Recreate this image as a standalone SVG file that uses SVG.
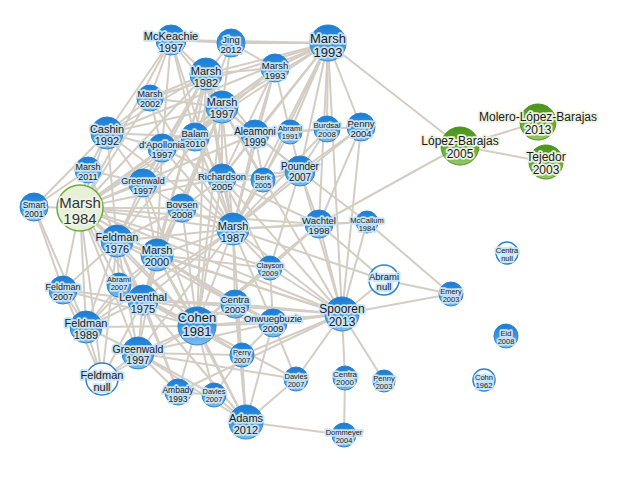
<svg xmlns="http://www.w3.org/2000/svg" width="630" height="484" viewBox="0 0 630 484">
<defs>
<linearGradient id="gBlue" x1="0" y1="0" x2="0" y2="1">
<stop offset="0" stop-color="#1a7bd2"/>
<stop offset="0.5" stop-color="#3b96e0"/>
<stop offset="1" stop-color="#7dbcec"/>
</linearGradient>
<linearGradient id="gGreen" x1="0" y1="0" x2="0" y2="1">
<stop offset="0" stop-color="#4a951c"/>
<stop offset="0.5" stop-color="#62a832"/>
<stop offset="1" stop-color="#95c966"/>
</linearGradient>
</defs>
<style>
.e line{stroke:#d4cdc4;stroke-width:2}
.n{fill:url(#gBlue);stroke:#2b84d0;stroke-width:1}
.w{fill:#fff;stroke:#2b84d0;stroke-width:1.5}
.g{fill:url(#gGreen);stroke:#4b9420;stroke-width:1}
.lg{fill:#e6f1d8;stroke:#6fab40;stroke-width:1.5}
text{font-family:"Liberation Sans",Arial,sans-serif;text-anchor:middle;fill:#1a1a1a;paint-order:stroke;stroke:#c6e3f7;stroke-width:3.5;stroke-linejoin:round}
.tg{stroke:#edf2df}
.t84{fill:#333;stroke:#eef5e6}
</style>
<rect width="630" height="484" fill="#fff"/>
<g id="connectors" class="e">
<line x1="171" y1="40" x2="231" y2="43"/>
<line x1="171" y1="40" x2="328" y2="43"/>
<line x1="171" y1="40" x2="206" y2="74"/>
<line x1="171" y1="40" x2="150" y2="98"/>
<line x1="171" y1="40" x2="107" y2="133"/>
<line x1="171" y1="40" x2="222" y2="107"/>
<line x1="171" y1="40" x2="162" y2="148"/>
<line x1="171" y1="40" x2="195" y2="137"/>
<line x1="171" y1="40" x2="80" y2="208"/>
<line x1="171" y1="40" x2="233" y2="229"/>
<line x1="231" y1="43" x2="328" y2="43"/>
<line x1="231" y1="43" x2="206" y2="74"/>
<line x1="231" y1="43" x2="222" y2="107"/>
<line x1="231" y1="43" x2="275" y2="68"/>
<line x1="231" y1="43" x2="195" y2="137"/>
<line x1="328" y1="43" x2="206" y2="74"/>
<line x1="328" y1="43" x2="275" y2="68"/>
<line x1="328" y1="43" x2="222" y2="107"/>
<line x1="328" y1="43" x2="255" y2="134"/>
<line x1="328" y1="43" x2="290" y2="132"/>
<line x1="328" y1="43" x2="327" y2="129"/>
<line x1="328" y1="43" x2="361" y2="127"/>
<line x1="328" y1="43" x2="300" y2="171"/>
<line x1="328" y1="43" x2="222" y2="178"/>
<line x1="328" y1="43" x2="263" y2="180"/>
<line x1="328" y1="43" x2="319" y2="224"/>
<line x1="328" y1="43" x2="342" y2="314"/>
<line x1="328" y1="43" x2="460" y2="146"/>
<line x1="328" y1="43" x2="107" y2="133"/>
<line x1="328" y1="43" x2="150" y2="98"/>
<line x1="328" y1="43" x2="233" y2="229"/>
<line x1="328" y1="43" x2="80" y2="208"/>
<line x1="206" y1="74" x2="275" y2="68"/>
<line x1="206" y1="74" x2="150" y2="98"/>
<line x1="206" y1="74" x2="107" y2="133"/>
<line x1="206" y1="74" x2="195" y2="137"/>
<line x1="206" y1="74" x2="162" y2="148"/>
<line x1="206" y1="74" x2="255" y2="134"/>
<line x1="206" y1="74" x2="222" y2="178"/>
<line x1="206" y1="74" x2="143" y2="183"/>
<line x1="206" y1="74" x2="157" y2="255"/>
<line x1="206" y1="74" x2="117" y2="241"/>
<line x1="206" y1="74" x2="143" y2="300"/>
<line x1="206" y1="74" x2="222" y2="107"/>
<line x1="206" y1="74" x2="80" y2="208"/>
<line x1="206" y1="74" x2="233" y2="229"/>
<line x1="206" y1="74" x2="197" y2="326"/>
<line x1="275" y1="68" x2="290" y2="132"/>
<line x1="275" y1="68" x2="255" y2="134"/>
<line x1="275" y1="68" x2="195" y2="137"/>
<line x1="275" y1="68" x2="222" y2="178"/>
<line x1="275" y1="68" x2="222" y2="107"/>
<line x1="275" y1="68" x2="233" y2="229"/>
<line x1="275" y1="68" x2="80" y2="208"/>
<line x1="150" y1="98" x2="107" y2="133"/>
<line x1="150" y1="98" x2="222" y2="107"/>
<line x1="150" y1="98" x2="162" y2="148"/>
<line x1="150" y1="98" x2="80" y2="208"/>
<line x1="150" y1="98" x2="233" y2="229"/>
<line x1="222" y1="107" x2="195" y2="137"/>
<line x1="222" y1="107" x2="162" y2="148"/>
<line x1="222" y1="107" x2="107" y2="133"/>
<line x1="222" y1="107" x2="255" y2="134"/>
<line x1="222" y1="107" x2="222" y2="178"/>
<line x1="222" y1="107" x2="263" y2="180"/>
<line x1="222" y1="107" x2="143" y2="183"/>
<line x1="222" y1="107" x2="182" y2="208"/>
<line x1="222" y1="107" x2="157" y2="255"/>
<line x1="222" y1="107" x2="117" y2="241"/>
<line x1="222" y1="107" x2="143" y2="300"/>
<line x1="222" y1="107" x2="342" y2="314"/>
<line x1="222" y1="107" x2="300" y2="171"/>
<line x1="222" y1="107" x2="80" y2="208"/>
<line x1="222" y1="107" x2="233" y2="229"/>
<line x1="222" y1="107" x2="197" y2="326"/>
<line x1="107" y1="133" x2="88" y2="170"/>
<line x1="107" y1="133" x2="162" y2="148"/>
<line x1="107" y1="133" x2="143" y2="183"/>
<line x1="107" y1="133" x2="34" y2="207"/>
<line x1="107" y1="133" x2="195" y2="137"/>
<line x1="107" y1="133" x2="80" y2="208"/>
<line x1="107" y1="133" x2="117" y2="241"/>
<line x1="107" y1="133" x2="233" y2="229"/>
<line x1="195" y1="137" x2="162" y2="148"/>
<line x1="195" y1="137" x2="255" y2="134"/>
<line x1="195" y1="137" x2="222" y2="178"/>
<line x1="195" y1="137" x2="80" y2="208"/>
<line x1="195" y1="137" x2="233" y2="229"/>
<line x1="162" y1="148" x2="222" y2="178"/>
<line x1="162" y1="148" x2="143" y2="183"/>
<line x1="162" y1="148" x2="80" y2="208"/>
<line x1="162" y1="148" x2="233" y2="229"/>
<line x1="162" y1="148" x2="157" y2="255"/>
<line x1="255" y1="134" x2="290" y2="132"/>
<line x1="255" y1="134" x2="222" y2="178"/>
<line x1="255" y1="134" x2="263" y2="180"/>
<line x1="255" y1="134" x2="300" y2="171"/>
<line x1="255" y1="134" x2="233" y2="229"/>
<line x1="255" y1="134" x2="80" y2="208"/>
<line x1="255" y1="134" x2="327" y2="129"/>
<line x1="290" y1="132" x2="327" y2="129"/>
<line x1="290" y1="132" x2="233" y2="229"/>
<line x1="290" y1="132" x2="300" y2="171"/>
<line x1="327" y1="129" x2="300" y2="171"/>
<line x1="327" y1="129" x2="233" y2="229"/>
<line x1="361" y1="127" x2="300" y2="171"/>
<line x1="361" y1="127" x2="327" y2="129"/>
<line x1="361" y1="127" x2="319" y2="224"/>
<line x1="361" y1="127" x2="342" y2="314"/>
<line x1="361" y1="127" x2="233" y2="229"/>
<line x1="88" y1="170" x2="34" y2="207"/>
<line x1="88" y1="170" x2="80" y2="208"/>
<line x1="88" y1="170" x2="117" y2="241"/>
<line x1="88" y1="170" x2="143" y2="183"/>
<line x1="143" y1="183" x2="80" y2="208"/>
<line x1="143" y1="183" x2="222" y2="178"/>
<line x1="143" y1="183" x2="117" y2="241"/>
<line x1="143" y1="183" x2="157" y2="255"/>
<line x1="143" y1="183" x2="197" y2="326"/>
<line x1="143" y1="183" x2="182" y2="208"/>
<line x1="222" y1="178" x2="263" y2="180"/>
<line x1="222" y1="178" x2="182" y2="208"/>
<line x1="222" y1="178" x2="300" y2="171"/>
<line x1="222" y1="178" x2="319" y2="224"/>
<line x1="222" y1="178" x2="270" y2="268"/>
<line x1="222" y1="178" x2="80" y2="208"/>
<line x1="222" y1="178" x2="233" y2="229"/>
<line x1="222" y1="178" x2="197" y2="326"/>
<line x1="222" y1="178" x2="342" y2="314"/>
<line x1="263" y1="180" x2="300" y2="171"/>
<line x1="263" y1="180" x2="233" y2="229"/>
<line x1="300" y1="171" x2="319" y2="224"/>
<line x1="300" y1="171" x2="270" y2="268"/>
<line x1="300" y1="171" x2="233" y2="229"/>
<line x1="300" y1="171" x2="342" y2="314"/>
<line x1="300" y1="171" x2="367" y2="222"/>
<line x1="34" y1="207" x2="80" y2="208"/>
<line x1="34" y1="207" x2="63" y2="290"/>
<line x1="34" y1="207" x2="86" y2="327"/>
<line x1="80" y1="208" x2="182" y2="208"/>
<line x1="80" y1="208" x2="233" y2="229"/>
<line x1="80" y1="208" x2="117" y2="241"/>
<line x1="80" y1="208" x2="157" y2="255"/>
<line x1="80" y1="208" x2="63" y2="290"/>
<line x1="80" y1="208" x2="119" y2="285"/>
<line x1="80" y1="208" x2="143" y2="300"/>
<line x1="80" y1="208" x2="86" y2="327"/>
<line x1="80" y1="208" x2="138" y2="353"/>
<line x1="80" y1="208" x2="102" y2="379"/>
<line x1="80" y1="208" x2="197" y2="326"/>
<line x1="80" y1="208" x2="235" y2="304"/>
<line x1="80" y1="208" x2="342" y2="314"/>
<line x1="80" y1="208" x2="319" y2="224"/>
<line x1="80" y1="208" x2="270" y2="268"/>
<line x1="182" y1="208" x2="233" y2="229"/>
<line x1="182" y1="208" x2="157" y2="255"/>
<line x1="182" y1="208" x2="117" y2="241"/>
<line x1="182" y1="208" x2="197" y2="326"/>
<line x1="233" y1="229" x2="319" y2="224"/>
<line x1="233" y1="229" x2="367" y2="222"/>
<line x1="233" y1="229" x2="157" y2="255"/>
<line x1="233" y1="229" x2="117" y2="241"/>
<line x1="233" y1="229" x2="143" y2="300"/>
<line x1="233" y1="229" x2="197" y2="326"/>
<line x1="233" y1="229" x2="235" y2="304"/>
<line x1="233" y1="229" x2="273" y2="323"/>
<line x1="233" y1="229" x2="342" y2="314"/>
<line x1="233" y1="229" x2="270" y2="268"/>
<line x1="233" y1="229" x2="384" y2="280"/>
<line x1="233" y1="229" x2="246" y2="422"/>
<line x1="233" y1="229" x2="138" y2="353"/>
<line x1="233" y1="229" x2="86" y2="327"/>
<line x1="319" y1="224" x2="367" y2="222"/>
<line x1="319" y1="224" x2="342" y2="314"/>
<line x1="319" y1="224" x2="384" y2="280"/>
<line x1="319" y1="224" x2="460" y2="146"/>
<line x1="319" y1="224" x2="270" y2="268"/>
<line x1="319" y1="224" x2="197" y2="326"/>
<line x1="367" y1="222" x2="451" y2="294"/>
<line x1="367" y1="222" x2="342" y2="314"/>
<line x1="117" y1="241" x2="157" y2="255"/>
<line x1="117" y1="241" x2="143" y2="300"/>
<line x1="117" y1="241" x2="86" y2="327"/>
<line x1="117" y1="241" x2="63" y2="290"/>
<line x1="117" y1="241" x2="119" y2="285"/>
<line x1="117" y1="241" x2="138" y2="353"/>
<line x1="117" y1="241" x2="102" y2="379"/>
<line x1="117" y1="241" x2="197" y2="326"/>
<line x1="117" y1="241" x2="235" y2="304"/>
<line x1="117" y1="241" x2="342" y2="314"/>
<line x1="117" y1="241" x2="178" y2="392"/>
<line x1="157" y1="255" x2="143" y2="300"/>
<line x1="157" y1="255" x2="86" y2="327"/>
<line x1="157" y1="255" x2="138" y2="353"/>
<line x1="157" y1="255" x2="235" y2="304"/>
<line x1="157" y1="255" x2="273" y2="323"/>
<line x1="157" y1="255" x2="342" y2="314"/>
<line x1="157" y1="255" x2="270" y2="268"/>
<line x1="157" y1="255" x2="197" y2="326"/>
<line x1="157" y1="255" x2="119" y2="285"/>
<line x1="157" y1="255" x2="246" y2="422"/>
<line x1="270" y1="268" x2="342" y2="314"/>
<line x1="270" y1="268" x2="273" y2="323"/>
<line x1="270" y1="268" x2="197" y2="326"/>
<line x1="384" y1="280" x2="451" y2="294"/>
<line x1="384" y1="280" x2="342" y2="314"/>
<line x1="63" y1="290" x2="86" y2="327"/>
<line x1="63" y1="290" x2="143" y2="300"/>
<line x1="63" y1="290" x2="197" y2="326"/>
<line x1="63" y1="290" x2="102" y2="379"/>
<line x1="119" y1="285" x2="143" y2="300"/>
<line x1="119" y1="285" x2="86" y2="327"/>
<line x1="119" y1="285" x2="197" y2="326"/>
<line x1="143" y1="300" x2="86" y2="327"/>
<line x1="143" y1="300" x2="138" y2="353"/>
<line x1="143" y1="300" x2="102" y2="379"/>
<line x1="143" y1="300" x2="178" y2="392"/>
<line x1="143" y1="300" x2="235" y2="304"/>
<line x1="143" y1="300" x2="342" y2="314"/>
<line x1="143" y1="300" x2="246" y2="422"/>
<line x1="143" y1="300" x2="197" y2="326"/>
<line x1="143" y1="300" x2="273" y2="323"/>
<line x1="143" y1="300" x2="242" y2="355"/>
<line x1="235" y1="304" x2="197" y2="326"/>
<line x1="235" y1="304" x2="273" y2="323"/>
<line x1="235" y1="304" x2="342" y2="314"/>
<line x1="235" y1="304" x2="242" y2="355"/>
<line x1="235" y1="304" x2="246" y2="422"/>
<line x1="197" y1="326" x2="86" y2="327"/>
<line x1="197" y1="326" x2="138" y2="353"/>
<line x1="197" y1="326" x2="102" y2="379"/>
<line x1="197" y1="326" x2="178" y2="392"/>
<line x1="197" y1="326" x2="214" y2="395"/>
<line x1="197" y1="326" x2="246" y2="422"/>
<line x1="197" y1="326" x2="242" y2="355"/>
<line x1="197" y1="326" x2="273" y2="323"/>
<line x1="197" y1="326" x2="342" y2="314"/>
<line x1="197" y1="326" x2="296" y2="379"/>
<line x1="273" y1="323" x2="342" y2="314"/>
<line x1="273" y1="323" x2="242" y2="355"/>
<line x1="273" y1="323" x2="296" y2="379"/>
<line x1="273" y1="323" x2="246" y2="422"/>
<line x1="342" y1="314" x2="242" y2="355"/>
<line x1="342" y1="314" x2="296" y2="379"/>
<line x1="342" y1="314" x2="345" y2="378"/>
<line x1="342" y1="314" x2="384" y2="381"/>
<line x1="342" y1="314" x2="451" y2="294"/>
<line x1="342" y1="314" x2="178" y2="392"/>
<line x1="86" y1="327" x2="102" y2="379"/>
<line x1="86" y1="327" x2="138" y2="353"/>
<line x1="138" y1="353" x2="102" y2="379"/>
<line x1="138" y1="353" x2="178" y2="392"/>
<line x1="138" y1="353" x2="246" y2="422"/>
<line x1="138" y1="353" x2="296" y2="379"/>
<line x1="138" y1="353" x2="242" y2="355"/>
<line x1="138" y1="353" x2="273" y2="323"/>
<line x1="138" y1="353" x2="214" y2="395"/>
<line x1="242" y1="355" x2="246" y2="422"/>
<line x1="242" y1="355" x2="214" y2="395"/>
<line x1="296" y1="379" x2="246" y2="422"/>
<line x1="345" y1="378" x2="344" y2="435"/>
<line x1="178" y1="392" x2="214" y2="395"/>
<line x1="214" y1="395" x2="246" y2="422"/>
<line x1="246" y1="422" x2="344" y2="435"/>
<line x1="460" y1="146" x2="538" y2="122"/>
<line x1="460" y1="146" x2="546" y2="162"/>
</g>
<g id="n-mckeachie-1997"><circle class="n" cx="171" cy="40" r="15"/><text x="171" y="40" font-size="11">McKeachie<tspan x="171" dy="1.08em">1997</tspan></text></g>
<g id="n-jing-2012"><circle class="n" cx="231" cy="43" r="14"/><text x="231" y="43" font-size="9.5">Jing<tspan x="231" dy="1.08em">2012</tspan></text></g>
<g id="n-marsh-1993a"><circle class="n" cx="328" cy="43" r="18"/><text x="328" y="43" font-size="13">Marsh<tspan x="328" dy="1.08em">1993</tspan></text></g>
<g id="n-marsh-1982"><circle class="n" cx="206" cy="74" r="16"/><text x="206" y="75" font-size="11">Marsh<tspan x="206" dy="1.08em">1982</tspan></text></g>
<g id="n-marsh-1993b"><circle class="n" cx="275" cy="68" r="14"/><text x="275" y="69" font-size="9.5">Marsh<tspan x="275" dy="1.08em">1993</tspan></text></g>
<g id="n-marsh-2002"><circle class="n" cx="150" cy="98" r="13"/><text x="150" y="97" font-size="9">Marsh<tspan x="150" dy="1.08em">2002</tspan></text></g>
<g id="n-marsh-1997"><circle class="n" cx="222" cy="107" r="16"/><text x="222" y="106" font-size="11">Marsh<tspan x="222" dy="1.08em">1997</tspan></text></g>
<g id="n-cashin-1992"><circle class="n" cx="107" cy="133" r="16"/><text x="107" y="133" font-size="11">Cashin<tspan x="107" dy="1.08em">1992</tspan></text></g>
<g id="n-balam-2010"><circle class="n" cx="195" cy="137" r="14"/><text x="195" y="137" font-size="9.5">Balam<tspan x="195" dy="1.08em">2010</tspan></text></g>
<g id="n-dapollonia-1997"><circle class="n" cx="162" cy="148" r="14"/><text x="162" y="148" font-size="9.5">d'Apollonia<tspan x="162" dy="1.08em">1997</tspan></text></g>
<g id="n-aleamoni-1999"><circle class="n" cx="255" cy="134" r="14"/><text x="255" y="135" font-size="10">Aleamoni<tspan x="255" dy="1.08em">1999</tspan></text></g>
<g id="n-abrami-1991"><circle class="n" cx="290" cy="132" r="12"/><text x="290" y="131" font-size="7.5">Abrami<tspan x="290" dy="1.08em">1991</tspan></text></g>
<g id="n-burdsal-2008"><circle class="n" cx="327" cy="129" r="13"/><text x="327" y="128" font-size="8">Burdsal<tspan x="327" dy="1.08em">2008</tspan></text></g>
<g id="n-penny-2004"><circle class="n" cx="361" cy="127" r="14"/><text x="361" y="127" font-size="9.5">Penny<tspan x="361" dy="1.08em">2004</tspan></text></g>
<g id="n-marsh-2011"><circle class="n" cx="88" cy="170" r="13"/><text x="88" y="170" font-size="9">Marsh<tspan x="88" dy="1.08em">2011</tspan></text></g>
<g id="n-greenwald-1997a"><circle class="n" cx="143" cy="183" r="14"/><text x="143" y="184" font-size="9">Greenwald<tspan x="143" dy="1.08em">1997</tspan></text></g>
<g id="n-richardson-2005"><circle class="n" cx="222" cy="178" r="14"/><text x="222" y="180" font-size="9.5">Richardson<tspan x="222" dy="1.08em">2005</tspan></text></g>
<g id="n-berk-2005"><circle class="n" cx="263" cy="180" r="12"/><text x="263" y="180" font-size="7.5">Berk<tspan x="263" dy="1.08em">2005</tspan></text></g>
<g id="n-pounder-2007"><circle class="n" cx="300" cy="171" r="15"/><text x="300" y="170" font-size="10">Pounder<tspan x="300" dy="1.08em">2007</tspan></text></g>
<g id="n-smart-2001"><circle class="n" cx="34" cy="207" r="14"/><text x="34" y="208" font-size="8.5">Smart<tspan x="34" dy="1.1em">2001</tspan></text></g>
<g id="n-marsh-1984"><circle class="lg" cx="80" cy="208" r="23"/><text class="t84" x="80" y="208" font-size="15">Marsh<tspan x="80" dy="1.08em">1984</tspan></text></g>
<g id="n-bovsen-2008"><circle class="n" cx="182" cy="208" r="14"/><text x="182" y="208" font-size="9.5">Bovsen<tspan x="182" dy="1.08em">2008</tspan></text></g>
<g id="n-marsh-1987"><circle class="n" cx="233" cy="229" r="16"/><text x="233" y="230" font-size="11">Marsh<tspan x="233" dy="1.08em">1987</tspan></text></g>
<g id="n-wachtel-1998"><circle class="n" cx="319" cy="224" r="14"/><text x="319" y="224" font-size="9.5">Wachtel<tspan x="319" dy="1.08em">1998</tspan></text></g>
<g id="n-mccallum-1984"><circle class="n" cx="367" cy="222" r="11"/><text x="367" y="223" font-size="7.5">McCallum<tspan x="367" dy="1.08em">1984</tspan></text></g>
<g id="n-feldman-1976"><circle class="n" cx="117" cy="241" r="16"/><text x="117" y="241" font-size="11">Feldman<tspan x="117" dy="1.08em">1976</tspan></text></g>
<g id="n-marsh-2000"><circle class="n" cx="157" cy="255" r="16"/><text x="157" y="254" font-size="11">Marsh<tspan x="157" dy="1.08em">2000</tspan></text></g>
<g id="n-clayson-2009"><circle class="n" cx="270" cy="268" r="12"/><text x="270" y="268" font-size="7.5">Clayson<tspan x="270" dy="1.08em">2009</tspan></text></g>
<g id="n-abrami-null"><circle class="w" cx="384" cy="280" r="15"/><text x="384" y="280" font-size="9.5">Abrami<tspan x="384" dy="1.08em">null</tspan></text></g>
<g id="n-feldman-2007"><circle class="n" cx="63" cy="290" r="14"/><text x="63" y="290" font-size="9">Feldman<tspan x="63" dy="1.08em">2007</tspan></text></g>
<g id="n-abrami-2007"><circle class="n" cx="119" cy="285" r="12"/><text x="119" y="282" font-size="7.5">Abrami<tspan x="119" dy="1.08em">2007</tspan></text></g>
<g id="n-leventhal-1975"><circle class="n" cx="143" cy="300" r="15"/><text x="143" y="301" font-size="11">Leventhal<tspan x="143" dy="1.08em">1975</tspan></text></g>
<g id="n-centra-2003"><circle class="n" cx="235" cy="304" r="14"/><text x="235" y="303" font-size="9.5">Centra<tspan x="235" dy="1.08em">2003</tspan></text></g>
<g id="n-cohen-1981"><circle class="n" cx="197" cy="326" r="19"/><text x="197" y="322" font-size="13">Cohen<tspan x="197" dy="1.1em">1981</tspan></text></g>
<g id="n-onwuegbuzie-2009"><circle class="n" cx="273" cy="323" r="14"/><text x="273" y="322" font-size="9.5">Onwuegbuzie<tspan x="273" dy="1.08em">2009</tspan></text></g>
<g id="n-spooren-2013"><circle class="n" cx="342" cy="314" r="17"/><text x="342" y="313" font-size="12">Spooren<tspan x="342" dy="1.1em">2013</tspan></text></g>
<g id="n-emery-2003"><circle class="n" cx="451" cy="294" r="12"/><text x="451" y="294" font-size="7.5">Emery<tspan x="451" dy="1.08em">2003</tspan></text></g>
<g id="n-feldman-1989"><circle class="n" cx="86" cy="327" r="16"/><text x="86" y="327" font-size="11">Feldman<tspan x="86" dy="1.05em">1989</tspan></text></g>
<g id="n-greenwald-1997b"><circle class="n" cx="138" cy="353" r="16"/><text x="138" y="353" font-size="10.5">Greenwald<tspan x="138" dy="1.05em">1997</tspan></text></g>
<g id="n-feldman-null"><circle class="w" cx="102" cy="379" r="16"/><text x="102" y="379" font-size="11">Feldman<tspan x="102" dy="1.08em">null</tspan></text></g>
<g id="n-perry-2007"><circle class="n" cx="242" cy="355" r="12"/><text x="242" y="355" font-size="7.5">Perry<tspan x="242" dy="1.08em">2007</tspan></text></g>
<g id="n-davies-2007a"><circle class="n" cx="296" cy="379" r="12"/><text x="296" y="379" font-size="7.5">Davies<tspan x="296" dy="1.08em">2007</tspan></text></g>
<g id="n-centra-2000"><circle class="n" cx="345" cy="378" r="12"/><text x="345" y="377" font-size="8">Centra<tspan x="345" dy="1.05em">2000</tspan></text></g>
<g id="n-penny-2003"><circle class="n" cx="384" cy="381" r="11"/><text x="384" y="381" font-size="7.5">Penny<tspan x="384" dy="1.05em">2003</tspan></text></g>
<g id="n-ambady-1993"><circle class="n" cx="178" cy="392" r="13"/><text x="178" y="393" font-size="8.5">Ambady<tspan x="178" dy="1.05em">1993</tspan></text></g>
<g id="n-davies-2007b"><circle class="n" cx="214" cy="395" r="12"/><text x="214" y="394" font-size="7.5">Davies<tspan x="214" dy="1.08em">2007</tspan></text></g>
<g id="n-adams-2012"><circle class="n" cx="246" cy="422" r="17"/><text x="246" y="422" font-size="11">Adams<tspan x="246" dy="1.05em">2012</tspan></text></g>
<g id="n-dommeyer-2004"><circle class="n" cx="344" cy="435" r="12"/><text x="344" y="435" font-size="7.5">Dommeyer<tspan x="344" dy="1.05em">2004</tspan></text></g>
<g id="n-centra-null"><circle class="w" cx="507" cy="253" r="11"/><text x="507" y="253" font-size="7.5">Centra<tspan x="507" dy="1.08em">null</tspan></text></g>
<g id="n-eid-2008"><circle class="n" cx="506" cy="336" r="12"/><text x="506" y="336" font-size="7.5">Eid<tspan x="506" dy="1.05em">2008</tspan></text></g>
<g id="n-cohn-1962"><circle class="w" cx="484" cy="380" r="11"/><text x="484" y="380" font-size="7.5">Cohn<tspan x="484" dy="1.05em">1962</tspan></text></g>
<g id="n-lopez-barajas-2005"><circle class="g" cx="460" cy="146" r="19"/><text class="tg" x="460" y="145" font-size="12">López-Barajas<tspan x="460" dy="1.05em">2005</tspan></text></g>
<g id="n-molero-lopez-barajas-2013"><circle class="g" cx="538" cy="122" r="18"/><text class="tg" x="538" y="121" font-size="12">Molero-López-Barajas<tspan x="538" dy="1.05em">2013</tspan></text></g>
<g id="n-tejedor-2003"><circle class="g" cx="546" cy="162" r="17"/><text class="tg" x="546" y="161" font-size="12">Tejedor<tspan x="546" dy="1.05em">2003</tspan></text></g>
</svg>
